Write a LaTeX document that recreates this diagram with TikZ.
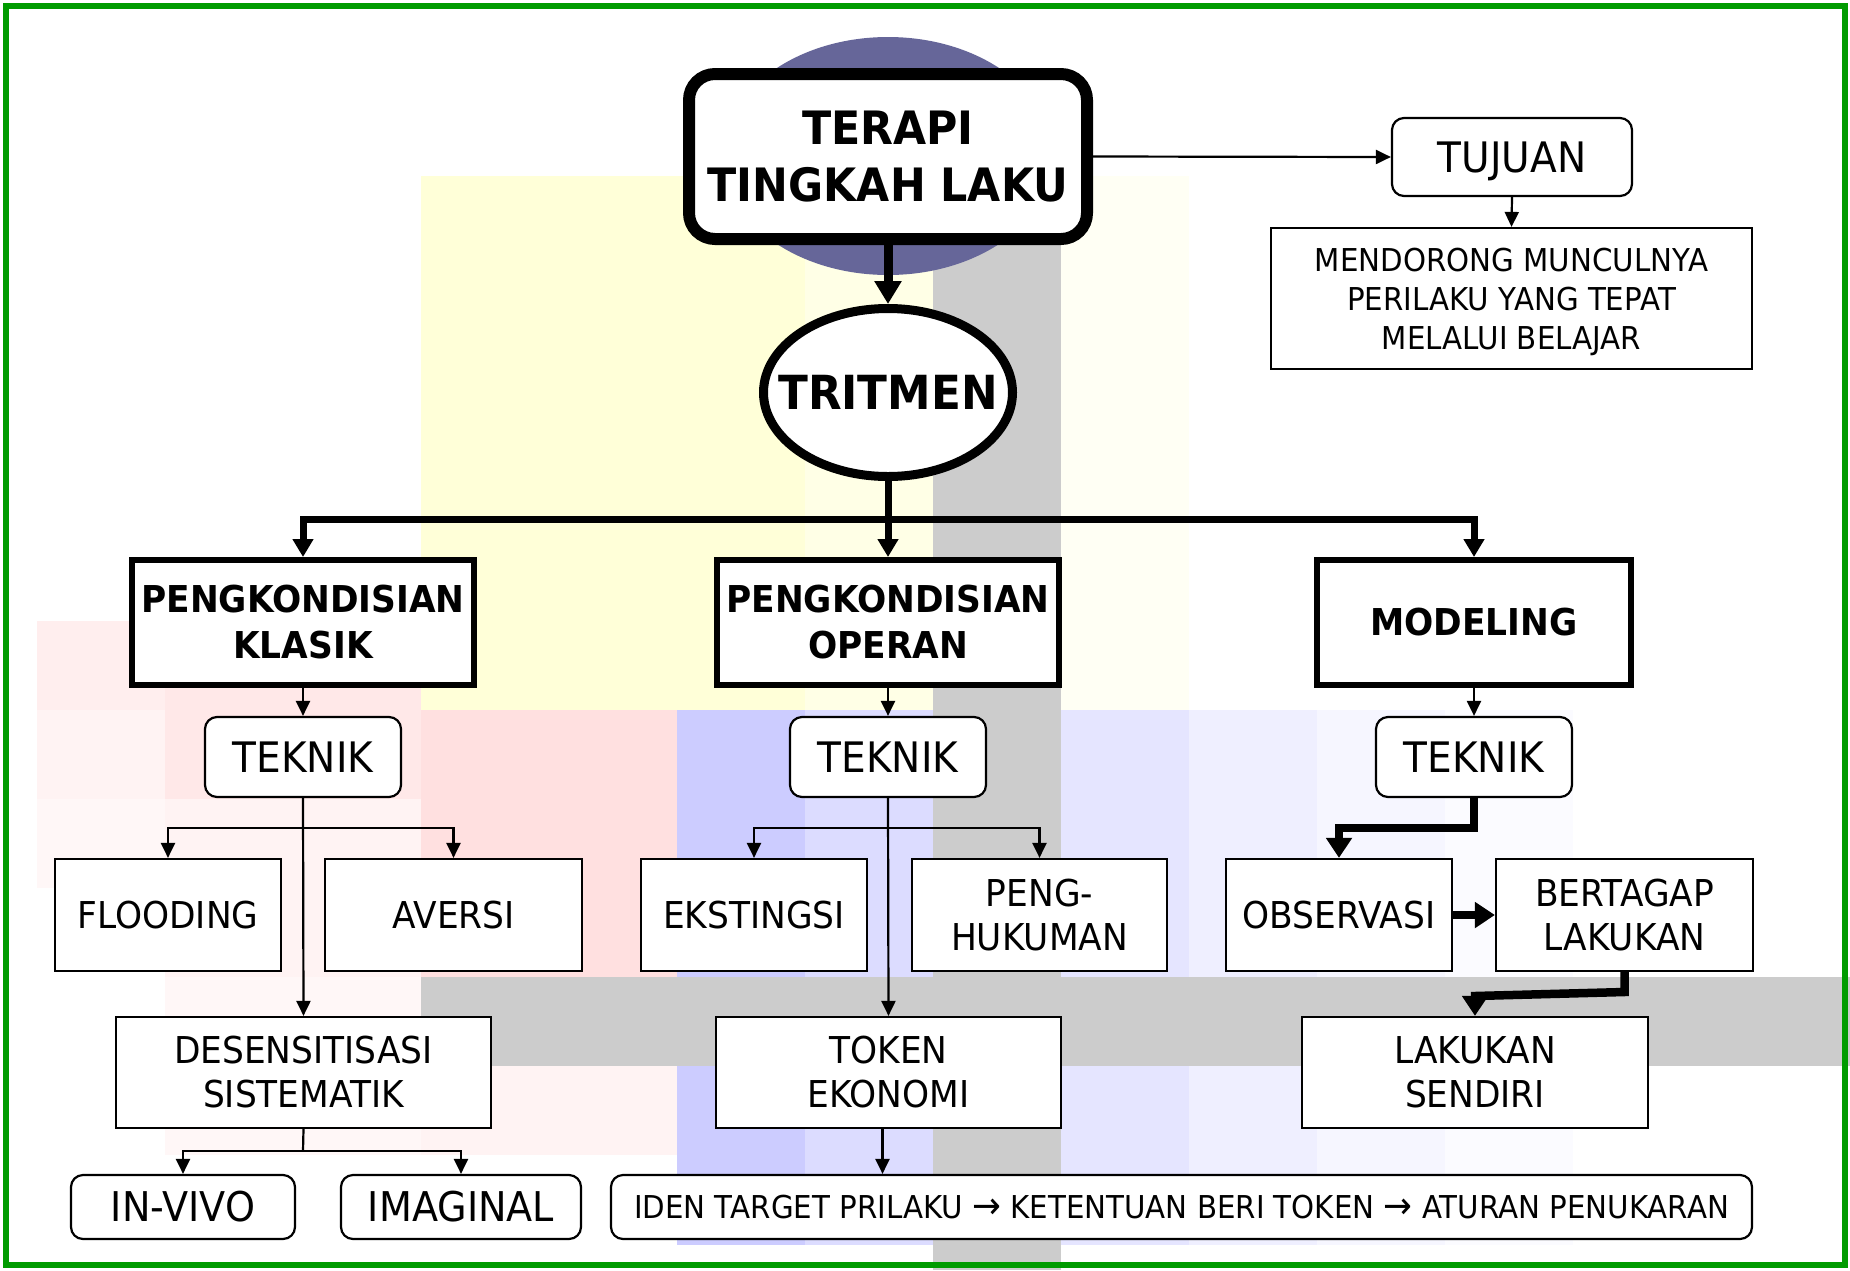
\documentclass[tikz,border=0pt]{standalone}
\usepackage{fontspec}
\setmainfont{DejaVu Sans}[FakeStretch=0.93]
\usetikzlibrary{shapes.geometric,arrows.meta,calc}
\definecolor{ylA}{RGB}{255,255,216}
\definecolor{ylB}{RGB}{255,255,230}
\definecolor{ylC}{RGB}{255,255,244}
\definecolor{gr}{RGB}{204,204,204}
\definecolor{blA}{RGB}{204,204,255}
\definecolor{blB}{RGB}{220,220,255}
\definecolor{blC}{RGB}{229,229,255}
\definecolor{blD}{RGB}{239,239,255}
\definecolor{blE}{RGB}{246,246,255}
\definecolor{blF}{RGB}{251,251,255}
\definecolor{pkA}{RGB}{255,224,224}
\definecolor{pkB}{RGB}{255,232,232}
\definecolor{pkC}{RGB}{255,238,238}
\definecolor{pkD}{RGB}{255,243,243}
\definecolor{pkE}{RGB}{255,247,247}
\definecolor{purp}{RGB}{102,102,153}
\definecolor{frame}{RGB}{0,155,0}
\newcommand{\bigarrowglyph}{{\fontsize{37}{37}\selectfont →}}
\tikzset{
  bx/.style={draw=black, fill=white, line width=2.2pt, inner sep=0pt, align=center,
    font=\fontsize{37}{44}\selectfont},
  rbx/.style={bx, rounded corners=12pt},
  thickbx/.style={bx, line width=6pt, minimum width=342pt, minimum height=125pt,
    font=\bfseries\fontsize{37}{46}\selectfont},
  teknikbx/.style={rbx, minimum width=196pt, minimum height=80pt,
    font=\fontsize{42}{50}\selectfont},
  leafbx/.style={bx, minimum height=112pt},
  lowbx/.style={bx, minimum height=111pt},
  pillbx/.style={rbx, minimum height=64pt, font=\fontsize{41}{48}\selectfont},
  thinarr/.style={line width=2.2pt, -{Triangle[length=15pt,width=14pt]}},
  busarr/.style={line width=7pt, -{Triangle[length=18pt,width=20pt]}},
  bigarr/.style={line width=9pt, -{Triangle[length=23pt,width=26pt]}},
  fatarr/.style={line width=8.5pt, -{Triangle[length=20pt,width=25pt]}},
}
\begin{document}
\begin{tikzpicture}[x=1pt,y=-1pt]
\useasboundingbox (0,0) rectangle (1850,1270);
\fill[white] (0,0) rectangle (1850,1270);
% yellow tiles
\fill[ylA] (421,176) rectangle (805,710);
\fill[ylB] (805,176) rectangle (933,710);
\fill[ylC] (1061,176) rectangle (1189,710);
% pink tiles
\fill[pkC] (37,621) rectangle (165,710);
\fill[pkD] (37,710) rectangle (165,799);
\fill[pkE] (37,799) rectangle (165,888);
\fill[pkB] (165,621) rectangle (421,799);
\fill[pkD] (165,799) rectangle (421,977);
\fill[pkA] (421,710) rectangle (677,977);
\fill[pkE] (165,977) rectangle (421,1155);
\fill[pkD] (421,1066) rectangle (677,1155);
% blue tiles
\fill[blA] (677,710) rectangle (805,1245);
\fill[blB] (805,710) rectangle (933,1245);
\fill[blC] (1061,710) rectangle (1189,1245);
\fill[blD] (1189,710) rectangle (1317,1245);
\fill[blE] (1317,710) rectangle (1445,1245);
\fill[blF] (1445,710) rectangle (1573,1245);
% gray strips
\fill[gr] (933,176) rectangle (1061,1270);
\fill[gr] (421,977) rectangle (1850,1066);
% purple ellipse
\fill[purp] (888,156) ellipse [x radius=165, y radius=119];

% nodes
\node[draw=black, fill=white, line width=12pt, rounded corners=26pt, inner sep=0pt,
  minimum width=398pt, minimum height=165pt, align=center,
  font=\bfseries\fontsize{46}{57}\selectfont] (terapi) at (888,156.5) {TERAPI\\TINGKAH LAKU};
\node[rbx, minimum width=240pt, minimum height=78pt, text depth=0pt,
  font=\fontsize{42}{50}\selectfont] (tujuan) at (1512,157) {TUJUAN};
\node[bx, minimum width=481pt, minimum height=141pt, text depth=0pt,
  font=\fontsize{31.5}{39}\selectfont]
  (tujuantext) at (1511.5,298.5) {MENDORONG MUNCULNYA\\PERILAKU YANG TEPAT\\MELALUI BELAJAR};
\node[ellipse, draw=black, fill=white, line width=9pt, inner sep=0pt,
  minimum width=249pt, minimum height=168pt,
  font=\bfseries\fontsize{47}{54}\selectfont] (tritmen) at (888,392.5)
  {\makebox[0pt][c]{TRITMEN}};

\node[thickbx] (klasik) at (303,622.5) {PENGKONDISIAN\\KLASIK};
\node[thickbx] (operan) at (888,622.5) {PENGKONDISIAN\\OPERAN};
\node[thickbx, minimum width=314pt] (modeling) at (1474,622.5) {MODELING};

\node[teknikbx] (teknikA) at (303,757) {TEKNIK};
\node[teknikbx] (teknikB) at (888,757) {TEKNIK};
\node[teknikbx] (teknikC) at (1474,757) {TEKNIK};

\node[leafbx, minimum width=226pt] (flooding) at (168,915) {FLOODING};
\node[leafbx, minimum width=257pt] (aversi) at (453.5,915) {AVERSI};
\node[leafbx, minimum width=226pt] (ekstingsi) at (754,915) {EKSTINGSI};
\node[leafbx, minimum width=255pt] (peng) at (1039.5,915) {PENG-\\HUKUMAN};
\node[leafbx, minimum width=226pt] (observ) at (1339,915) {OBSERVASI};
\node[leafbx, minimum width=257pt] (bertagap) at (1624.5,915) {BERTAGAP\\LAKUKAN};

\node[lowbx, minimum width=375pt] (desens) at (303.5,1072.5) {DESENSITISASI\\SISTEMATIK};
\node[lowbx, minimum width=345pt] (token) at (888.5,1072.5) {TOKEN\\EKONOMI};
\node[lowbx, minimum width=346pt] (lakukan) at (1475,1072.5) {LAKUKAN\\SENDIRI};

\node[pillbx, minimum width=224pt] (invivo) at (183,1207) {IN-VIVO};
\node[pillbx, minimum width=240pt] (imaginal) at (461,1207) {IMAGINAL};
\node[rbx, minimum width=1141pt, minimum height=64pt, text depth=0pt,
  font=\fontsize{31.5}{38}\selectfont]
  (iden) at (1181.5,1207) {IDEN TARGET PRILAKU \bigarrowglyph{} KETENTUAN BERI TOKEN \bigarrowglyph{} ATURAN PENUKARAN};

% connectors
\draw[thinarr] (terapi.east) -- (tujuan.west);
\draw[thinarr] (tujuan.south) -- (tujuantext.north);
\draw[bigarr] (terapi.south) -- (tritmen.north);

\coordinate (bus) at (888,519);
\draw[busarr] (tritmen.south) -- (operan.north);
\draw[busarr] (bus) -| (klasik.north);
\draw[busarr] (bus) -| (modeling.north);

\draw[thinarr] (klasik.south) -- (teknikA.north);
\draw[thinarr] (operan.south) -- (teknikB.north);
\draw[thinarr] (modeling.south) -- (teknikC.north);

\coordinate (brA) at (303,828);
\draw[thinarr] (teknikA.south) -- (desens.north);
\draw[thinarr] (brA) -| (flooding.north);
\draw[thinarr] (brA) -| (aversi.north);

\coordinate (brB) at (888,828);
\draw[thinarr] (teknikB.south) -- (token.north);
\draw[thinarr] (brB) -| (ekstingsi.north);
\draw[thinarr] (brB) -| (peng.north);

\coordinate (brD) at (303,1151);
\draw[line width=2.2pt] (desens.south) -- (brD);
\draw[thinarr] (brD) -| (invivo.north);
\draw[thinarr] (brD) -| (imaginal.north);

\coordinate (tk) at ([xshift=-6pt]token.south);
\draw[thinarr] (tk) -- (tk |- iden.north);

\coordinate (mc1) at (1339,828);
\draw[fatarr] (teknikC.south) |- (mc1) -- (observ.north);
\draw[fatarr] (observ.east) -- (bertagap.west);
\coordinate (mc2) at (1624.5,992);
\coordinate (mc3) at (1475,996);
\draw[fatarr] (bertagap.south) -- (mc2) -- (mc3) -- (lakukan.north);

% frame
\draw[frame, line width=6pt] (6,6) rectangle (1845,1265);
\end{tikzpicture}
\end{document}
